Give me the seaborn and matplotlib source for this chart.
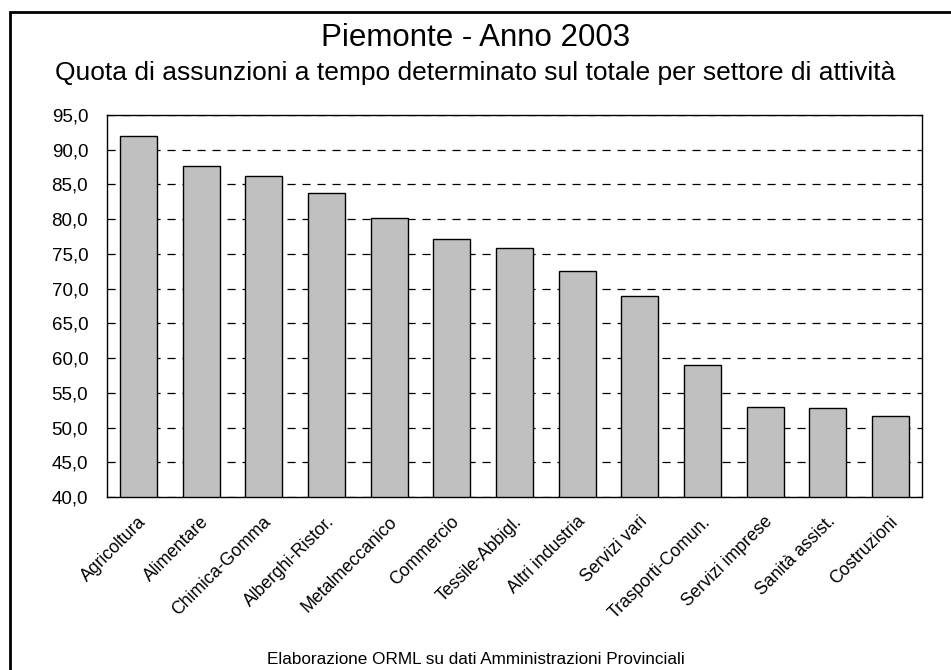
import matplotlib
matplotlib.use("Agg")
import matplotlib.pyplot as plt
import matplotlib.ticker as mticker
import matplotlib.transforms as mtransforms
import seaborn as sns
import pandas as pd

# Data
settori = ['Agricoltura', 'Alimentare', 'Chimica-Gomma', 'Alberghi-Ristor.',
           'Metalmeccanico', 'Commercio', 'Tessile-Abbigl.', 'Altri industria',
           'Servizi vari', 'Trasporti-Comun.', 'Servizi imprese', 'Sanità assist.',
           'Costruzioni']
quota = [92.0, 87.6, 86.2, 83.7, 80.2, 77.2, 75.8, 72.5, 68.9, 59.0, 52.9, 52.8, 51.7]

df = pd.DataFrame({'Settore': settori, 'Quota': quota})

sns.set_style('white', {'text.color': 'black', 'xtick.color': 'black', 'ytick.color': 'black'})
plt.rcParams['font.family'] = ['Liberation Sans', 'DejaVu Sans']

fig = plt.figure(figsize=(9.51, 6.70), dpi=100)
ax = fig.add_axes([0.1125, 0.2582, 0.8570, 0.5702])

sns.barplot(data=df, x='Settore', y='Quota', color='#C0C0C0',
            edgecolor='black', linewidth=1.0, width=0.59, saturation=1, ax=ax)

ax.set_ylim(40, 95)
ax.set_xlim(-0.5, len(settori) - 0.5)
ax.yaxis.set_major_locator(mticker.MultipleLocator(5))
ax.yaxis.set_major_formatter(mticker.FuncFormatter(lambda v, p: f'{v:.1f}'.replace('.', ',')))
ax.yaxis.grid(True, color='black', linestyle=(0, (6.5, 5.5)), linewidth=0.9)
ax.set_axisbelow(True)
ax.tick_params(axis='y', length=0, labelsize=13.5, pad=13.5, labelcolor='black')
ax.tick_params(axis='x', length=0, labelsize=12.7, pad=16, labelcolor='black')
shift = mtransforms.ScaledTranslation(5 / 100, 0, fig.dpi_scale_trans)
for lab in ax.get_xticklabels():
    lab.set_rotation(45)
    lab.set_ha('right')
    lab.set_va('center')
    lab.set_rotation_mode('anchor')
    lab.set_transform(lab.get_transform() + shift)
ax.set_xlabel('')
ax.set_ylabel('')
for s in ax.spines.values():
    s.set_color('black')
    s.set_linewidth(1.0)

fig.text(0.5, 1 - 38 / 670, 'Piemonte - Anno 2003', ha='center', va='center',
         fontsize=22.5, color='black')
fig.text(0.5, 1 - 73 / 670, 'Quota di assunzioni a tempo determinato sul totale per settore di attività',
         ha='center', va='center', fontsize=19, color='black')
fig.text(0.5, 1 - 660 / 670, 'Elaborazione ORML su dati Amministrazioni Provinciali',
         ha='center', va='center', fontsize=12.3, color='black')

# outer frame (right and bottom edges fall outside the picture)
frame = plt.Rectangle((10 / 951, -0.05), 1.1, 1 - 12 / 670 + 0.05, transform=fig.transFigure,
                      fill=False, edgecolor='black', linewidth=2)
fig.add_artist(frame)

fig.savefig('out.png', dpi=100)
